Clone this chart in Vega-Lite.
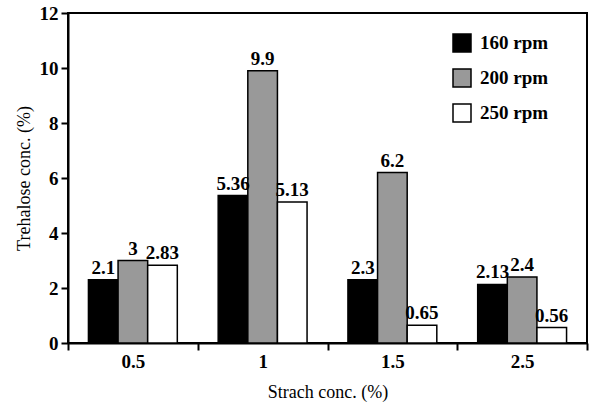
{
  "$schema": "https://vega.github.io/schema/vega-lite/v6.json",
  "width": 519,
  "height": 330,
  "autosize": {"type": "none"},
  "padding": {"left": 68, "top": 13, "right": 12, "bottom": 63},
  "data": {
    "values": [
      {"starch": "0.5", "speed": "160 rpm", "value": 2.3, "label": "2.1"},
      {"starch": "0.5", "speed": "200 rpm", "value": 3.0, "label": "3"},
      {"starch": "0.5", "speed": "250 rpm", "value": 2.83, "label": "2.83"},
      {"starch": "1", "speed": "160 rpm", "value": 5.36, "label": "5.36"},
      {"starch": "1", "speed": "200 rpm", "value": 9.9, "label": "9.9"},
      {"starch": "1", "speed": "250 rpm", "value": 5.13, "label": "5.13"},
      {"starch": "1.5", "speed": "160 rpm", "value": 2.3, "label": "2.3"},
      {"starch": "1.5", "speed": "200 rpm", "value": 6.2, "label": "6.2"},
      {"starch": "1.5", "speed": "250 rpm", "value": 0.65, "label": "0.65"},
      {"starch": "2.5", "speed": "160 rpm", "value": 2.13, "label": "2.13"},
      {"starch": "2.5", "speed": "200 rpm", "value": 2.4, "label": "2.4"},
      {"starch": "2.5", "speed": "250 rpm", "value": 0.56, "label": "0.56"}
    ]
  },
  "encoding": {
    "x": {
      "field": "starch",
      "type": "nominal",
      "sort": ["0.5", "1", "1.5", "2.5"],
      "scale": {"paddingInner": 0, "paddingOuter": 0},
      "title": "Strach conc. (%)",
      "axis": {
        "labelAngle": 0,
        "tickBand": "extent",
        "tickSize": 7,
        "labelPadding": 2,
        "labelFontSize": 19,
        "labelFontWeight": "bold",
        "titleFontSize": 18,
        "titleFontWeight": "normal",
        "titlePadding": 12
      }
    },
    "xOffset": {
      "field": "speed",
      "type": "nominal",
      "sort": ["160 rpm", "200 rpm", "250 rpm"],
      "scale": {"paddingInner": 0, "paddingOuter": 0.69}
    },
    "y": {
      "field": "value",
      "type": "quantitative",
      "scale": {"domain": [0, 12]},
      "title": "Trehalose conc. (%)",
      "axis": {
        "values": [0, 2, 4, 6, 8, 10, 12],
        "tickSize": 7,
        "labelPadding": 3,
        "labelFontSize": 19,
        "labelFontWeight": "bold",
        "titleFontSize": 18,
        "titleFontWeight": "normal",
        "titlePadding": 6
      }
    }
  },
  "layer": [
    {
      "mark": {"type": "bar", "stroke": "black", "strokeWidth": 1.5},
      "encoding": {
        "fill": {
          "field": "speed",
          "type": "nominal",
          "scale": {"domain": ["160 rpm", "200 rpm", "250 rpm"], "range": ["black", "#999999", "white"]},
          "legend": {
            "orient": "none",
            "legendX": 384,
            "legendY": 20,
            "title": null,
            "symbolType": "square",
            "symbolSize": 324,
            "symbolStrokeColor": "black",
            "symbolStrokeWidth": 1.5,
            "labelFont": "Liberation Serif",
            "labelFontSize": 19,
            "labelFontWeight": "bold",
            "labelColor": "black",
            "rowPadding": 11,
            "labelOffset": 8
          }
        }
      }
    },
    {
      "mark": {"type": "text", "baseline": "bottom", "dy": -2, "fontSize": 19, "fontWeight": "bold", "font": "Liberation Serif", "color": "black"},
      "encoding": {"text": {"field": "label"}}
    }
  ],
  "config": {
    "font": "Liberation Serif",
    "view": {"stroke": "black", "strokeWidth": 2},
    "axis": {
      "grid": false,
      "domainColor": "black",
      "domainWidth": 2,
      "tickColor": "black",
      "tickWidth": 2,
      "labelColor": "black",
      "titleColor": "black",
      "labelFont": "Liberation Serif",
      "titleFont": "Liberation Serif"
    }
  }
}
